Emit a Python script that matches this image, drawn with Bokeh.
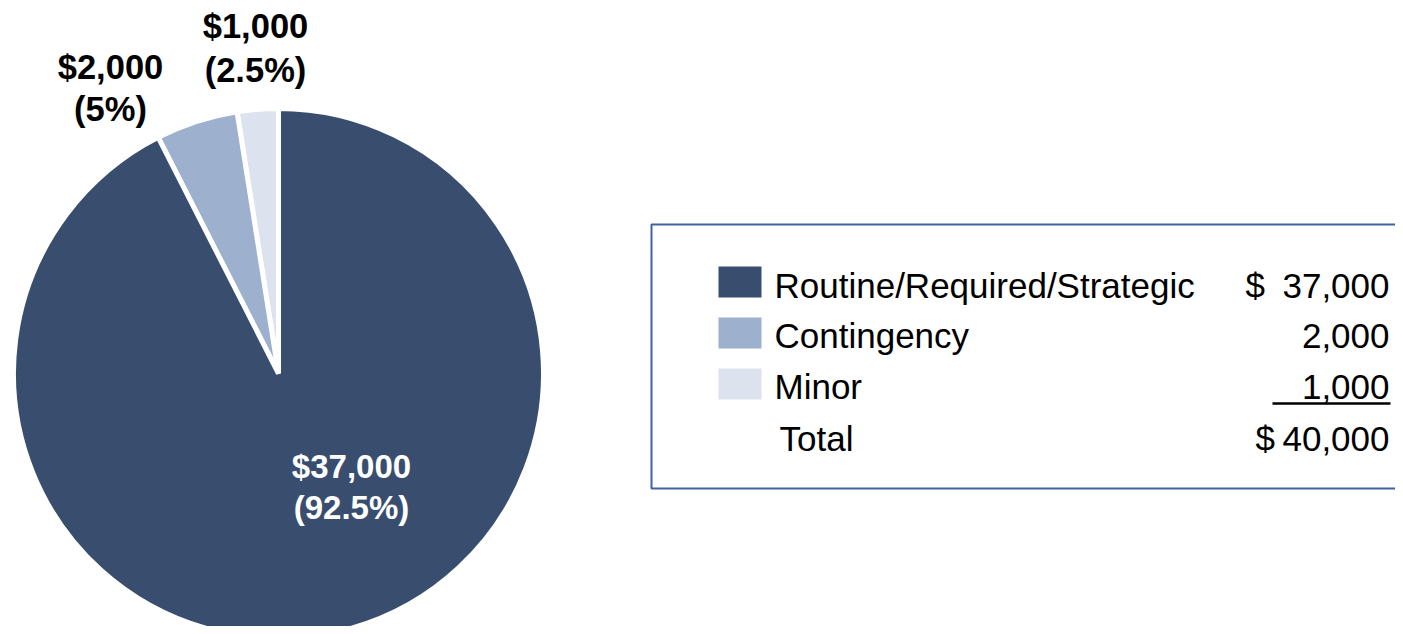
import math
from bokeh.plotting import figure
from bokeh.models import Range1d, ColumnDataSource
from bokeh.core.properties import value
from bokeh.embed import file_html
from bokeh.resources import INLINE

# ---- data ----
categories = ["Routine/Required/Strategic", "Contingency", "Minor"]
amounts = [37000, 2000, 1000]
colors = ["#394e6e", "#9db0cd", "#dde3ee"]

total = sum(amounts)
pcts = [a / total * 100 for a in amounts]
amount_labels = ["${:,}".format(a) for a in amounts]
pct_labels = ["({:g}%)".format(p) for p in pcts]

FONT = value("Liberation Sans")
PAGE_H = 634
LEG_FS = "35px"


def Y(sy):
    return PAGE_H - sy


p = figure(width=1395, height=626, x_range=Range1d(0, 1395), y_range=Range1d(8, 634),
           output_backend="svg", toolbar_location=None, min_border=0)
p.axis.visible = False
p.grid.visible = False
p.outline_line_color = None
p.background_fill_color = "white"
p.border_fill_color = "white"

# ---- pie: starts at 12 o'clock, anticlockwise, smallest slice first ----
cx, cy, r = 278, Y(373), 265
order = [2, 1, 0]
starts, ends, cols = [], [], []
acc = math.pi / 2
for i in order:
    span = amounts[i] / total * 2 * math.pi
    starts.append(acc)
    ends.append(acc + span)
    cols.append(colors[i])
    acc += span
src = ColumnDataSource(dict(x=[cx] * 3, y=[cy] * 3, s=starts, e=ends, c=cols))
p.wedge(x="x", y="y", radius=r, start_angle="s", end_angle="e", direction="anticlock",
        fill_color="c", line_color="white", line_width=5, source=src)

# ---- slice labels (y = middle of capitals) ----
label_pos = {0: (351, 466, 507, "white", "33px"),
             1: (110, 66, 108, "black", "34.5px"),
             2: (255, 25, 69, "black", "34.5px")}
for i, (lx, m1, m2, col, fs) in label_pos.items():
    p.text(x=[lx, lx], y=[Y(m1), Y(m2)], text=[amount_labels[i], pct_labels[i]],
           text_align="center", text_baseline="middle", text_font=FONT,
           text_font_style="bold", text_font_size=fs, text_color=col)

# ---- legend table ----
p.quad(left=651, right=1500, top=Y(224), bottom=Y(488), fill_color=None,
       line_color="#41619f", line_width=2)

row_mid = [285, 335, 386]
sw_top = [266, 317, 368]
for i, cat in enumerate(categories):
    m = row_mid[i]
    p.quad(left=718, right=761, top=Y(sw_top[i]), bottom=Y(sw_top[i] + 31),
           fill_color=colors[i], line_color=None)
    p.text(x=[774], y=[Y(m)], text=[cat], text_align="left", text_baseline="middle",
           text_font=FONT, text_font_size=LEG_FS, text_color="black")
    p.text(x=[1389], y=[Y(m)], text=["{:,}".format(amounts[i])], text_align="right",
           text_baseline="middle", text_font=FONT, text_font_size=LEG_FS, text_color="black")

p.text(x=[1245], y=[Y(row_mid[0])], text=["$"], text_align="left", text_baseline="middle",
       text_font=FONT, text_font_size=LEG_FS, text_color="black")
# underline under last amount
p.segment(x0=[1272], y0=[Y(403)], x1=[1390], y1=[Y(403)], line_color="black", line_width=2.5)

# total row
p.text(x=[779], y=[Y(438)], text=["Total"], text_align="left", text_baseline="middle",
       text_font=FONT, text_font_size=LEG_FS, text_color="black")
p.text(x=[1255], y=[Y(438)], text=["$"], text_align="left", text_baseline="middle",
       text_font=FONT, text_font_size=LEG_FS, text_color="black")
p.text(x=[1389], y=[Y(438)], text=["{:,}".format(total)], text_align="right",
       text_baseline="middle", text_font=FONT, text_font_size=LEG_FS, text_color="black")

open("out.html", "w").write(file_html(p, INLINE))
